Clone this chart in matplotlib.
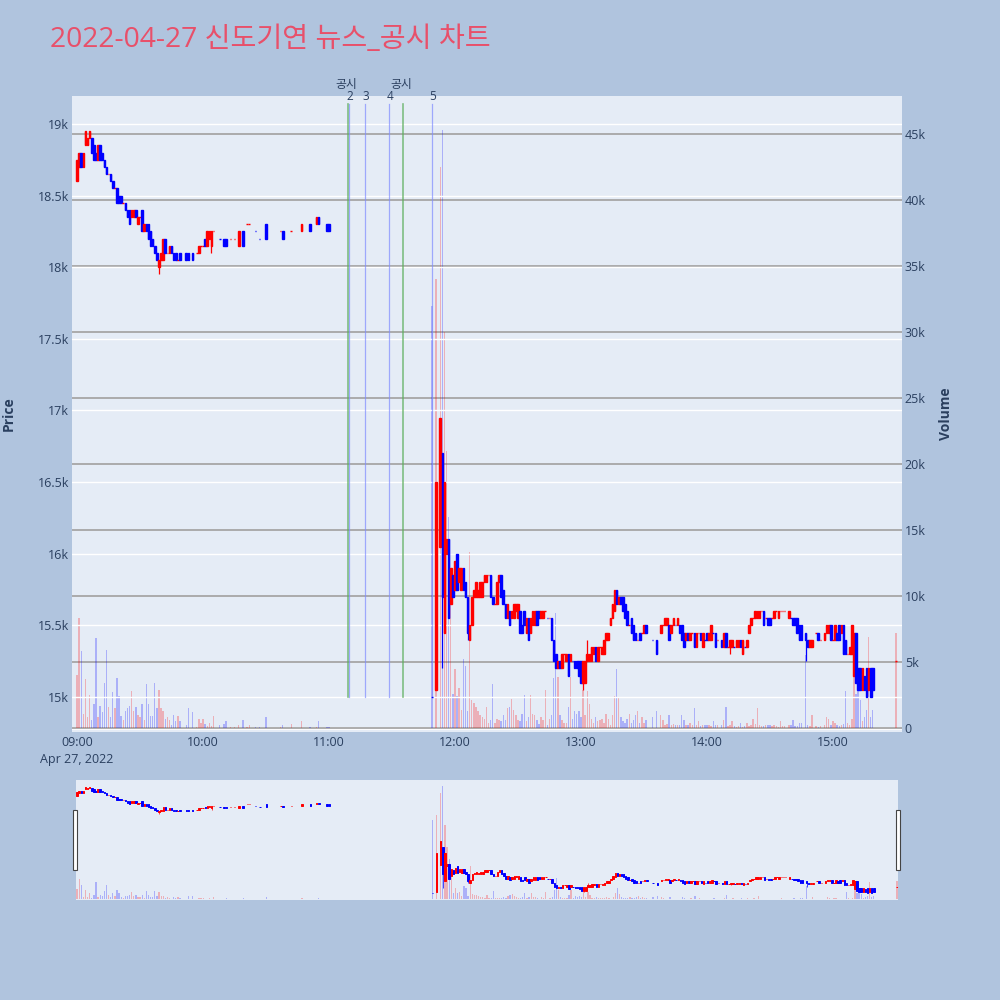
import matplotlib
matplotlib.use("Agg")
import matplotlib.pyplot as plt
from matplotlib.patches import Rectangle
import matplotlib.transforms as mtransforms

# ------------------------------------------------------------------ data
# minutes after 09:00 that traded in the morning
am_minute = list(range(0, 50)) + [52, 53, 55] + list(range(57, 66)) + \
    [68, 70, 71, 73, 75, 77, 79, 81, 82, 85, 87, 90, 97, 98, 102, 107, 111, 114, 115, 119, 120]
am_open = [18600, 18700, 18800, 18700, 18850, 18850, 18900, 18900, 18850, 18800,
           18750, 18850, 18800, 18750, 18700, 18650, 18650, 18600, 18550, 18550,
           18500, 18500, 18450, 18450, 18400, 18400, 18350, 18350, 18400, 18300,
           18350, 18400, 18250, 18300, 18300, 18250, 18200, 18150, 18100, 18000,
           18050, 18050, 18200, 18100, 18100, 18150, 18100, 18100, 18050, 18100,
           18100, 18100, 18100,
           18100, 18100, 18150, 18150, 18200, 18150, 18200, 18150, 18250,
           18200, 18200, 18200, 18200, 18200, 18150, 18250, 18300, 18300, 18250,
           18200, 18300, 18250, 18250, 18250, 18250, 18300, 18300, 18350, 18300, 18300]
am_close = [18750, 18800, 18700, 18800, 18950, 18900, 18950, 18800, 18750, 18750,
            18850, 18750, 18750, 18700, 18650, 18650, 18600, 18550, 18550, 18450,
            18450, 18450, 18450, 18400, 18350, 18300, 18400, 18400, 18350, 18350,
            18350, 18250, 18300, 18250, 18200, 18150, 18150, 18100, 18050, 18050,
            18100, 18200, 18100, 18100, 18150, 18100, 18050, 18050, 18050, 18050,
            18050, 18050, 18050,
            18100, 18150, 18150, 18150, 18150, 18250, 18250, 18250, 18250,
            18200, 18150, 18150, 18200, 18200, 18250, 18150, 18300, 18300, 18250,
            18200, 18200, 18250, 18200, 18250, 18300, 18250, 18350, 18300, 18250, 18250]
am_volume = [4000, 8300, 5800, 1100, 3700, 800, 2500, 600, 1800, 6800,
             800, 1700, 1200, 3400, 5900, 1600, 800, 2700, 1500, 3800,
             2400, 900, 600, 1300, 1500, 1700, 2800, 1300, 1600, 1000,
             800, 1800, 600, 3300, 1800, 900, 900, 3400, 1500, 2900,
             1500, 1300, 700, 800, 600, 200, 1000, 500, 900, 500,
             200, 1500, 1200,
             100, 700, 400, 700, 300, 150, 400, 150, 900,
             200, 300, 500, 100, 100, 200, 600, 100, 200, 100,
             100, 800, 100, 200, 300, 500, 100, 100, 500, 100, 100]

# afternoon minutes (after the halt) and the 15:30 closing auction
pm_minute = [169, 171] + list(range(173, 272)) + [274, 276] + list(range(278, 306)) + \
    list(range(307, 338)) + list(range(339, 346)) + list(range(347, 351)) + \
    list(range(352, 355)) + list(range(356, 380)) + [390]
pm_open = [15000, 15050, 16050, 16700, 15450, 16000, 16100, 15650, 15850, 15750,
           16000, 15800, 15750, 15900, 15800, 15700, 15400, 15500, 15700, 15700,
           15700, 15700, 15700, 15800, 15800, 15850, 15850, 15700, 15650, 15650,
           15800, 15850, 15750, 15650, 15550, 15600, 15550, 15550, 15600, 15550,
           15600, 15500, 15600, 15450, 15550, 15450, 15500, 15500, 15600, 15600,
           15550, 15550, 15600, 15550, 15550, 15550, 15400, 15300, 15200, 15250,
           15200, 15300, 15250, 15300, 15250, 15250, 15250, 15250, 15250, 15250,
           15100, 15100, 15250, 15250, 15250, 15300, 15350, 15250, 15350, 15300,
           15300, 15400, 15400, 15500, 15550, 15600, 15750, 15650, 15700, 15700,
           15650, 15600, 15500, 15550, 15500, 15450, 15400, 15450, 15450, 15450,
           15500, 15400, 15400,
           15450, 15500, 15500, 15500, 15500, 15450, 15500, 15500, 15500, 15500,
           15500, 15450, 15400, 15450, 15400, 15450, 15450, 15350, 15450, 15450,
           15350, 15400, 15450, 15400, 15400, 15450, 15450, 15400,
           15400, 15350, 15450, 15350, 15350, 15350, 15350, 15350, 15350, 15400,
           15300, 15350, 15350, 15450, 15500, 15550, 15550, 15550, 15550, 15600,
           15600, 15550, 15550, 15550, 15550, 15550, 15600, 15550, 15600, 15600,
           15600,
           15550, 15550, 15550, 15550, 15550, 15500, 15500,
           15450, 15400, 15350, 15350,
           15450, 15450, 15400,
           15400, 15450, 15450, 15500, 15400, 15400, 15450, 15500, 15450, 15500,
           15400, 15300, 15300, 15300, 15150, 15450, 15200, 15200, 15050, 15150,
           15200, 15050, 15200, 15200,
           15250]
pm_close = [15000, 16500, 16950, 15700, 16500, 16100, 15550, 15900, 15700, 15950,
            15750, 15900, 15900, 15750, 15700, 15450, 15500, 15700, 15750, 15800,
            15750, 15800, 15800, 15850, 15850, 15850, 15700, 15650, 15650, 15800,
            15850, 15700, 15650, 15550, 15650, 15500, 15600, 15650, 15650, 15650,
            15450, 15450, 15500, 15550, 15400, 15550, 15600, 15600, 15500, 15550,
            15600, 15600, 15600, 15550, 15550, 15400, 15250, 15200, 15250, 15200,
            15300, 15300, 15300, 15150, 15300, 15250, 15200, 15200, 15150, 15100,
            15250, 15250, 15300, 15300, 15350, 15350, 15250, 15350, 15350, 15350,
            15400, 15450, 15450, 15550, 15650, 15750, 15650, 15700, 15650, 15600,
            15550, 15500, 15500, 15450, 15400, 15400, 15400, 15400, 15450, 15500,
            15450, 15400, 15300,
            15500, 15500, 15550, 15550, 15400, 15500, 15550, 15500, 15550, 15450,
            15400, 15350, 15450, 15400, 15450, 15450, 15350, 15450, 15450, 15400,
            15450, 15400, 15400, 15450, 15500, 15450, 15350, 15400,
            15350, 15450, 15350, 15350, 15400, 15400, 15350, 15400, 15400, 15350,
            15400, 15350, 15400, 15500, 15550, 15550, 15600, 15600, 15600, 15600,
            15500, 15550, 15500, 15500, 15550, 15600, 15600, 15600, 15600, 15600,
            15600,
            15600, 15550, 15500, 15500, 15450, 15400, 15400,
            15400, 15350, 15400, 15400,
            15450, 15400, 15400,
            15450, 15500, 15500, 15400, 15400, 15500, 15400, 15400, 15500, 15300,
            15300, 15300, 15350, 15500, 15450, 15100, 15050, 15050, 15200, 15050,
            15000, 15200, 15000, 15050,
            15250]
pm_volume = [32000, 34000, 42500, 45300, 30000, 21000, 16000, 12000, 2600, 4500,
             2400, 3000, 1400, 5200, 4700, 1300, 13300, 2100, 1900, 1600,
             1300, 1000, 850, 700, 1600, 350, 600, 3300, 350, 700,
             600, 500, 1000, 600, 1500, 1600, 2200, 1400, 1000, 600,
             500, 1100, 2500, 500, 850, 2500, 1100, 1000, 600, 300,
             850, 600, 2900, 200, 700, 1000, 3800, 8700, 3900, 1000,
             600, 350, 350, 1600, 3900, 700, 1300, 1100, 1300, 850,
             2900, 1000, 2800, 1800, 700, 350, 850, 500, 600, 700,
             350, 1100, 700, 200, 1000, 2400, 4500, 2300, 850, 500,
             350, 700, 1100, 350, 600, 1000, 1300, 350, 850, 350,
             600, 850, 1300,
             1000, 600, 200, 300, 1000, 200, 300, 200, 200, 200,
             1000, 600, 200, 200, 350, 200, 1500, 200, 500, 150,
             200, 200, 200, 200, 150, 500, 200, 200,
             200, 600, 1600, 150, 200, 550, 150, 100, 150, 350,
             100, 150, 350, 150, 200, 700, 300, 1500, 200, 150,
             150, 200, 200, 200, 150, 200, 150, 100, 500, 150,
             150,
             200, 200, 600, 150, 150, 350, 350,
             5500, 200, 150, 1000,
             150, 100, 150,
             200, 850, 700, 200, 500, 350, 200, 150, 200, 300,
             2800, 350, 200, 700, 5000, 2600, 3900, 2100, 500, 850,
             1400, 6900, 850, 1400,
             7200]

wick_low = {39: 17950, 64: 18100, 174: 15200, 186: 15400, 241: 15050, 311: 15300, 347: 15250}
wick_high = {243: 15400}

news_minute = [129.0, 129.5, 137.1, 148.6, 155.2, 169.0]
news_label = ["공시", "2", "3", "4", "공시", "5"]
news_kind = ["disclosure", "news", "news", "news", "disclosure", "news"]

price_ticks = [15000, 15500, 16000, 16500, 17000, 17500, 18000, 18500, 19000]
price_labels = ["15k", "15.5k", "16k", "16.5k", "17k", "17.5k", "18k", "18.5k", "19k"]
vol_ticks = [0, 5000, 10000, 15000, 20000, 25000, 30000, 35000, 40000, 45000]
vol_labels = ["0", "5k", "10k", "15k", "20k", "25k", "30k", "35k", "40k", "45k"]
time_ticks = [0, 60, 120, 180, 240, 300, 360]
time_labels = ["09:00\nApr 27, 2022", "10:00", "11:00", "12:00", "13:00", "14:00", "15:00"]
title = "2022-04-27 신도기연 뉴스_공시 차트"

# ------------------------------------------------------------------ style
BG = "#B0C4DE"
PLOT_BG = "#E5ECF6"
TXT = "#2a3f5f"
UP = "#FF0000"
DOWN = "#0000FF"
FONT = ["Open Sans", "Noto Sans CJK KR", "DejaVu Sans"]
plt.rcParams["font.family"] = FONT

minutes = am_minute + pm_minute
opens = am_open + pm_open
closes = am_close + pm_close
volumes = am_volume + pm_volume

dirs = []
prev = None
for o, c in zip(opens, closes):
    if c > o:
        d = 1
    elif c < o:
        d = -1
    else:
        d = 1 if (prev is None or c >= prev) else -1
    dirs.append(d)
    prev = c
cols = [UP if d > 0 else DOWN for d in dirs]
vcols = [(1, 0, 0, 0.25) if d > 0 else (0, 0, 1, 0.25) for d in dirs]
lows = [min(o, c, wick_low.get(m, 1e9)) for m, o, c in zip(minutes, opens, closes)]
highs = [max(o, c, wick_high.get(m, -1e9)) for m, o, c in zip(minutes, opens, closes)]
bottoms = [min(o, c) for o, c in zip(opens, closes)]
heights = [abs(c - o) for o, c in zip(opens, closes)]

PRICE_LIM = (14756, 19195)
VOL_LIM = (-300, 47880)


def draw(axp, axv, body_w, edge_lw, wick_lw, vol_w):
    axv.bar(minutes, volumes, width=vol_w, color=vcols, linewidth=0, zorder=2)
    axp.vlines(minutes, lows, highs, colors=cols, linewidth=wick_lw, zorder=3)
    axp.bar(minutes, heights, bottom=bottoms, width=body_w, color=cols,
            edgecolor=cols, linewidth=edge_lw, zorder=4)
    axp.set_ylim(*PRICE_LIM)
    axv.set_ylim(*VOL_LIM)


fig = plt.figure(figsize=(10, 10), dpi=100, facecolor=BG)

# main chart
ax = fig.add_axes([0.072, 0.268, 0.830, 0.636])
axv = ax.twinx()
ax.set_zorder(axv.get_zorder() + 1)
ax.patch.set_visible(False)
axv.patch.set_visible(True)
axv.patch.set_facecolor(PLOT_BG)

draw(ax, axv, 0.75, 1.0, 0.9, 0.65)
ax.set_xlim(-2.4, 392.9)

ax.set_yticks(price_ticks)
ax.set_yticklabels(price_labels)
axv.set_yticks(vol_ticks)
axv.set_yticklabels(vol_labels)
ax.set_xticks(time_ticks)
ax.set_xticklabels(time_labels, linespacing=1.35)
ax.tick_params(axis="y", length=0, pad=2, labelsize=9, labelcolor=TXT)
axv.tick_params(axis="y", length=0, pad=2, labelsize=9, labelcolor=TXT)
ax.tick_params(axis="x", length=0, pad=3, labelsize=9, labelcolor=TXT)
ax.grid(axis="y", color="white", linewidth=1.0)
ax.grid(axis="x", visible=False)
axv.grid(axis="y", color="#A6A6A6", linewidth=1.3)
axv.axhline(0, color="white", linewidth=2, zorder=1.5)
for a in (ax, axv):
    for s in a.spines.values():
        s.set_visible(False)

trans = mtransforms.blended_transform_factory(ax.transData, ax.transAxes)
for m, lab, kind in zip(news_minute, news_label, news_kind):
    if kind == "disclosure":
        ax.axvline(m, ymin=0.055, ymax=0.987, color="#5DAE5D", alpha=0.75,
                   linewidth=1.2, zorder=2)
        ax.text(m - 0.6, 1.0185, lab, transform=trans, ha="center", va="center",
                fontsize=8.5, color=TXT, clip_on=False)
    else:
        ax.axvline(m, ymin=0.055, ymax=0.987, color="#7F8CFF", alpha=0.7,
                   linewidth=0.9, zorder=1.9)
        ax.text(m + 0.5, 0.999, lab, transform=trans, ha="center", va="center",
                fontsize=8.5, color=TXT, clip_on=False)

# range slider
axm = fig.add_axes([0.076, 0.100, 0.822, 0.120])
axmv = axm.twinx()
axm.set_zorder(axmv.get_zorder() + 1)
axm.patch.set_visible(False)
axmv.patch.set_visible(True)
axmv.patch.set_facecolor(PLOT_BG)
draw(axm, axmv, 0.7, 0.7, 0.5, 0.6)
axm.set_xlim(-0.5, 390.5)
for a in (axm, axmv):
    a.set_xticks([])
    a.set_yticks([])
    for s in a.spines.values():
        s.set_visible(False)

for hx in (0.0725, 0.8960):
    fig.patches.append(Rectangle((hx, 0.130), 0.004, 0.060, transform=fig.transFigure,
                                 facecolor="white", edgecolor="#444444", linewidth=0.8,
                                 zorder=10))

# titles
fig.text(0.05, 0.960, title, fontsize=20.3, color="#E8506A", ha="left", va="center",
         family=FONT)
fig.text(0.009, 0.586, "Price", rotation=90, fontsize=10, fontweight="bold",
         color=TXT, ha="center", va="center")
fig.text(0.946, 0.586, "Volume", rotation=90, fontsize=10, fontweight="bold",
         color=TXT, ha="center", va="center")

fig.savefig("out.png", dpi=100, facecolor=BG)
